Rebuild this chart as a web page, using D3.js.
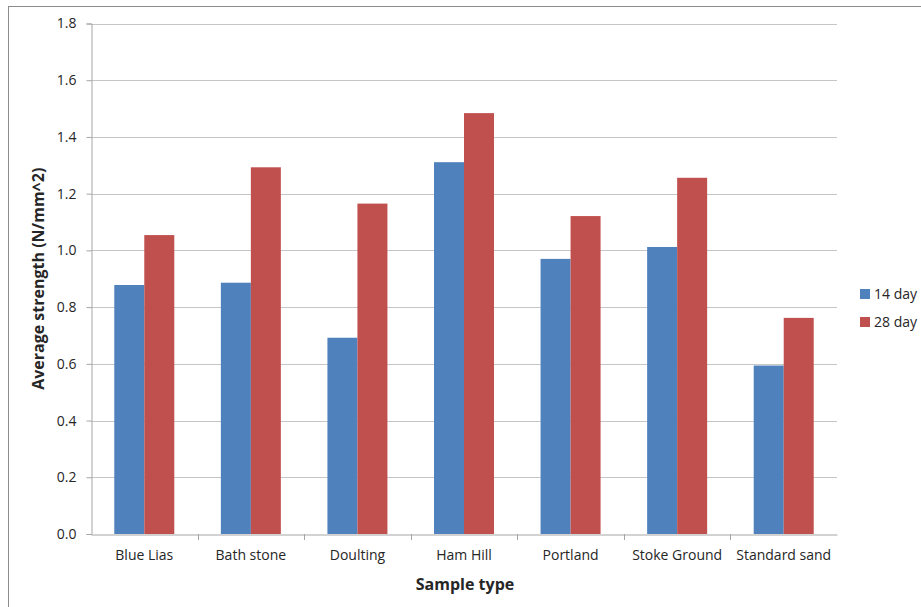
<!DOCTYPE html>
<html>
<head>
<meta charset="utf-8">
<script src="https://cdn.jsdelivr.net/npm/d3@7"></script>
<style>
  html, body { margin: 0; padding: 0; background: #fff; }
  svg { display: block; font-family: "Open Sans", "Noto Sans", sans-serif; }
</style>
</head>
<body>
<svg id="chart" width="921" height="607"></svg>
<script>
// Sample types and average strength (N/mm^2) at 14 and 28 days
const categories = ["Blue Lias", "Bath stone", "Doulting", "Ham Hill", "Portland", "Stoke Ground", "Standard sand"];
const seriesNames = ["14 day", "28 day"];
const day14 = [0.878, 0.886, 0.692, 1.311, 0.970, 1.012, 0.594];
const day28 = [1.054, 1.293, 1.165, 1.484, 1.121, 1.256, 0.762];
const yTicks = [0, 0.2, 0.4, 0.6, 0.8, 1.0, 1.2, 1.4, 1.6, 1.8];
const colors = ["#4F81BD", "#C0504D"];

const series = [day14, day28];
const svg = d3.select("#chart");

// outer chart frame
svg.append("rect")
  .attr("x", 8.5).attr("y", 6.5)
  .attr("width", 930).attr("height", 620)
  .attr("fill", "none").attr("stroke", "#8c8c8c").attr("stroke-width", 1);

const plot = { left: 91, right: 837, top: 23.5, bottom: 534 };

const x0 = d3.scaleBand()
  .domain(categories)
  .range([plot.left, plot.right])
  .paddingInner(0)
  .paddingOuter(0);

const groupWidth = x0.bandwidth() * 0.563;
const x1 = d3.scaleBand()
  .domain(seriesNames)
  .range([0, groupWidth]);

const y = d3.scaleLinear()
  .domain([0, 1.8])
  .range([plot.bottom, plot.top]);

// horizontal gridlines
svg.append("g")
  .selectAll("line")
  .data(yTicks.filter(d => d > 0))
  .join("line")
  .attr("x1", plot.left).attr("x2", plot.right)
  .attr("y1", d => Math.round(y(d)) + 0.5)
  .attr("y2", d => Math.round(y(d)) + 0.5)
  .attr("stroke", "#c6c6c6").attr("stroke-width", 1);

// bars
const groups = svg.append("g")
  .selectAll("g")
  .data(categories)
  .join("g")
  .attr("transform", d => `translate(${x0(d) + (x0.bandwidth() - groupWidth) / 2},0)`);

groups.selectAll("rect")
  .data((d, i) => seriesNames.map((s, k) => ({ s, v: series[k][i], k })))
  .join("rect")
  .attr("x", d => x1(d.s))
  .attr("y", d => y(d.v))
  .attr("width", x1.bandwidth())
  .attr("height", d => y(0) - y(d.v))
  .attr("fill", d => colors[d.k]);

// y axis
const yAxis = d3.axisLeft(y)
  .tickValues(yTicks)
  .tickFormat(d3.format(".1f"))
  .tickSize(5)
  .tickPadding(10);

const gy = svg.append("g")
  .attr("transform", `translate(${plot.left + 0.5},0)`)
  .call(yAxis);
gy.select(".domain").attr("stroke", "#a6a6a6");
gy.selectAll(".tick line").attr("stroke", "#a6a6a6");
gy.selectAll(".tick text")
  .attr("fill", "#262626")
  .style("font-size", "14px")
  .style("font-family", "'Open Sans', sans-serif");

// x axis
const xAxis = d3.axisBottom(x0).tickSize(0).tickPadding(16);
const gx = svg.append("g")
  .attr("transform", `translate(0,${plot.bottom + 0.5})`)
  .call(xAxis);
gx.select(".domain").attr("stroke", "#a6a6a6");
gx.selectAll(".tick text")
  .attr("fill", "#262626")
  .style("font-size", "14px")
  .style("font-family", "'Open Sans', sans-serif");

// category separator ticks
svg.append("g")
  .selectAll("line")
  .data(categories.slice(1))
  .join("line")
  .attr("x1", d => Math.round(x0(d)) + 0.5)
  .attr("x2", d => Math.round(x0(d)) + 0.5)
  .attr("y1", plot.bottom)
  .attr("y2", plot.bottom + 6)
  .attr("stroke", "#a6a6a6");

// axis titles
svg.append("text")
  .attr("x", (plot.left + plot.right) / 2 + 1)
  .attr("y", 590)
  .attr("text-anchor", "middle")
  .attr("fill", "#262626")
  .style("font-size", "16px")
  .style("font-weight", "bold")
  .text("Sample type");

svg.append("text")
  .attr("transform", `translate(44,${(plot.top + plot.bottom) / 2}) rotate(-90)`)
  .attr("text-anchor", "middle")
  .attr("fill", "#262626")
  .style("font-size", "16px")
  .style("font-weight", "bold")
  .text("Average strength (N/mm^2)");

// legend
const legend = svg.append("g")
  .selectAll("g")
  .data(seriesNames)
  .join("g")
  .attr("transform", (d, i) => `translate(860,${289 + i * 28})`);

legend.append("rect")
  .attr("width", 10).attr("height", 10)
  .attr("fill", (d, i) => colors[i]);

legend.append("text")
  .attr("x", 14).attr("y", 10)
  .attr("fill", "#262626")
  .style("font-size", "14px")
  .text(d => d);
</script>
</body>
</html>
